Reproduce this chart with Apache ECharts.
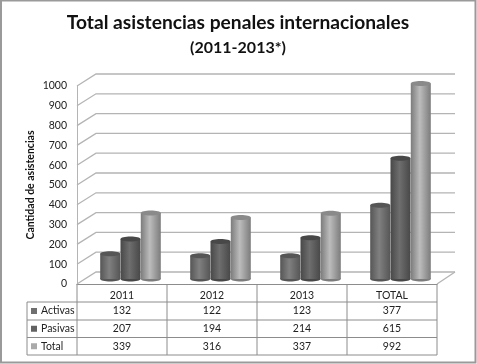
<!DOCTYPE html>
<html>
<head>
<meta charset="utf-8">
<style>html,body{margin:0;padding:0;background:#fff}#main{width:477px;height:364px}</style>
<script src="https://cdn.jsdelivr.net/npm/echarts@6/dist/echarts.min.js"></script>
</head>
<body>
<div id="main"></div>
<script>
const categories = ['2011', '2012', '2013', 'TOTAL'];
const activas = [132, 122, 123, 377];
const pasivas = [207, 194, 214, 615];
const total = [339, 316, 337, 992];
const ticks = [0, 100, 200, 300, 400, 500, 600, 700, 800, 900, 1000];
const seriesNames = ['Activas', 'Pasivas', 'Total'];

const FONT = 'Lato';
const chart = echarts.init(document.getElementById('main'), null, { renderer: 'canvas' });

// colores de cada cilindro: borde, centro, tapa
const tones = [
  { edge: '#565656', mid: '#808080', cap: '#565656', key: '#6f6f6f' },
  { edge: '#484848', mid: '#6e6e6e', cap: '#484848', key: '#626262' },
  { edge: '#7c7c7c', mid: '#bcbcbc', cap: '#8a8a8a', key: '#aaaaaa' }
];

// pared del fondo: diagonal izquierda + linea horizontal
function renderWall(params, api) {
  const y = api.coord([0, api.value(0)])[1];
  const cs = params.coordSys;
  const style = { stroke: '#b4b4b4', lineWidth: 1.3, fill: null };
  const children = [{
    type: 'polyline',
    shape: { points: [[cs.x, y], [cs.x + 19, y - 12], [cs.x + cs.width + 18, y - 12]] },
    style: style
  }];
  if (api.value(0) === 0) {
    children.push({
      type: 'line',
      shape: { x1: cs.x + cs.width, y1: y, x2: cs.x + cs.width + 18, y2: y - 12 },
      style: style
    });
  }
  return { type: 'group', children: children };
}

function renderCylinder(params, api) {
  const tone = tones[params.seriesIndex - 1];
  const slot = params.seriesIndex - 2;
  const top = api.coord([api.value(0), api.value(1)]);
  const base = api.coord([api.value(0), 0]);
  const w = 20;
  const x = top[0] + 8.5 + slot * 20.3 - w / 2;
  const y0 = base[1] - 5;
  const y1 = top[1] - 4;
  const grad = new echarts.graphic.LinearGradient(0, 0, 1, 0, [
    { offset: 0, color: tone.edge },
    { offset: 0.45, color: tone.mid },
    { offset: 1, color: tone.edge }
  ]);
  return {
    type: 'group',
    children: [
      { type: 'ellipse', shape: { cx: x + w / 2, cy: y0, rx: w / 2, ry: 2.5 }, style: { fill: tone.edge } },
      { type: 'rect', shape: { x: x, y: y1, width: w, height: y0 - y1 }, style: { fill: grad } },
      { type: 'ellipse', shape: { cx: x + w / 2, cy: y1, rx: w / 2, ry: 2.5 }, style: { fill: tone.cap } }
    ]
  };
}

// tabla de datos debajo del eje
const rowY = [302, 320, 337.5, 355];
const colX = [77, 167, 257, 347, 437];
const tableRows = [activas, pasivas, total];
const lineStyle = { stroke: '#8c8c8c', lineWidth: 1 };
const tableGraphic = [
  { type: 'rect', z: 0, shape: { x: 1, y: 0.5, width: 474.5, height: 362 }, style: { fill: 'none', stroke: '#9a9a9a', lineWidth: 2 } }
];
rowY.forEach(function (y) {
  tableGraphic.push({ type: 'line', shape: { x1: 27, y1: y, x2: 437, y2: y }, style: lineStyle });
});
tableGraphic.push({ type: 'line', shape: { x1: 27, y1: 302, x2: 27, y2: 355 }, style: lineStyle });
colX.forEach(function (x) {
  tableGraphic.push({ type: 'line', shape: { x1: x, y1: 284, x2: x, y2: 355 }, style: lineStyle });
});
seriesNames.forEach(function (name, r) {
  const cy = (rowY[r] + rowY[r + 1]) / 2;
  tableGraphic.push({ type: 'rect', shape: { x: 31, y: cy - 3, width: 6, height: 6 }, style: { fill: tones[r].key } });
  tableGraphic.push({ type: 'text', style: { x: 41, y: cy, text: name, font: '10.5px ' + FONT, fill: '#222', textVerticalAlign: 'middle' } });
  tableRows[r].forEach(function (v, c) {
    tableGraphic.push({
      type: 'text',
      style: { x: (colX[c] + colX[c + 1]) / 2, y: cy, text: String(v), font: '10.5px ' + FONT, fill: '#222', textAlign: 'center', textVerticalAlign: 'middle' }
    });
  });
});

chart.setOption({
  backgroundColor: '#ffffff',
  animation: false,
  title: [
    { text: 'Total asistencias penales internacionales', left: 233, top: 8, textAlign: 'center',
      textStyle: { fontFamily: FONT, fontSize: 19.2, fontWeight: 'bold', color: '#111' } },
    { text: '(2011-2013*)', left: 233, top: 35, textAlign: 'center',
      textStyle: { fontFamily: FONT, fontSize: 16, fontWeight: 'bold', color: '#111' } }
  ],
  grid: { left: 77, top: 86, width: 360, height: 198 },
  xAxis: {
    type: 'category',
    data: categories,
    axisLine: { lineStyle: { color: '#8c8c8c' } },
    axisTick: { show: false },
    axisLabel: { fontFamily: FONT, fontSize: 10.5, color: '#222', margin: 6 }
  },
  yAxis: {
    type: 'value',
    min: 0,
    max: 1000,
    interval: 100,
    name: 'Cantidad de asistencias',
    nameLocation: 'middle',
    nameGap: 41,
    nameMoveOverlap: false,
    nameTextStyle: { fontFamily: FONT, fontSize: 10.5, fontWeight: 'bold', color: '#111' },
    axisLine: { show: true, lineStyle: { color: '#b4b4b4' } },
    axisTick: { show: false },
    splitLine: { show: false },
    axisLabel: { fontFamily: FONT, fontSize: 10.5, color: '#222', margin: 10, formatter: function (v) { return String(v); } }
  },
  series: [
    { type: 'custom', renderItem: renderWall, data: ticks.map(function (t) { return [t]; }), encode: { y: 0 }, z: 1, silent: true },
    { name: seriesNames[0], type: 'custom', renderItem: renderCylinder, data: activas.map(function (v, i) { return [i, v]; }), encode: { x: 0, y: 1 }, z: 2 },
    { name: seriesNames[1], type: 'custom', renderItem: renderCylinder, data: pasivas.map(function (v, i) { return [i, v]; }), encode: { x: 0, y: 1 }, z: 3 },
    { name: seriesNames[2], type: 'custom', renderItem: renderCylinder, data: total.map(function (v, i) { return [i, v]; }), encode: { x: 0, y: 1 }, z: 4 }
  ],
  graphic: tableGraphic
});
</script>
</body>
</html>
